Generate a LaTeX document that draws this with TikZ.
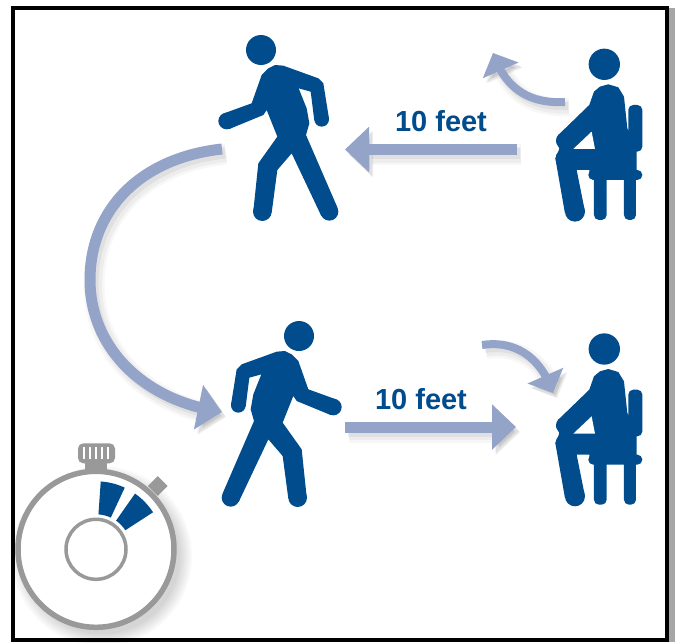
\documentclass[tikz,border=0pt]{standalone}
\usepackage{fontspec}
\setmainfont{Liberation Sans}
\usetikzlibrary{arrows.meta, bending}
\definecolor{figblue}{RGB}{0, 76, 140}
\definecolor{arrowblue}{RGB}{148, 163, 200}
\definecolor{watchgray}{RGB}{153, 153, 153}

\tikzset{
    softshadow/.style={
        preaction={draw=black, opacity=0.03, line width=#1+0.20cm, transform canvas={shift={(4,5)}}},
        preaction={draw=black, opacity=0.04, line width=#1+0.10cm, transform canvas={shift={(4,5)}}},
        preaction={draw=black, opacity=0.05, line width=#1, transform canvas={shift={(3,4)}}}
    },
    bigarrow/.style={draw=arrowblue, line width=0.22cm, softshadow=0.22cm, -{Triangle[length=0.48cm, width=0.88cm, flex]}},
    smallarrow/.style={draw=arrowblue, line width=0.16cm, softshadow=0.16cm, -{Triangle[length=0.38cm, width=0.76cm, flex]}},
    walker/.pic={
        \begin{scope}[scale=1/3, shift={(-183,-90)}]
            \fill[figblue] (183,90) circle (45);
            \fill[figblue] (225,135) -- (250,137) -- (355,175) -- (370,190) -- (387,296) -- (343,302) -- (332,215) -- (296,205)
                -- (320,265) -- (328,310) -- (318,345) -- (412,562) -- (364,588) -- (275,400) -- (232,450) -- (215,578)
                -- (160,573) -- (175,430) -- (232,350) -- (200,270) -- (190,285) -- (88,327) -- (72,280) -- (155,250)
                -- (185,165) -- (205,145) -- cycle;
            % hands and feet
            \foreach \x/\y/\r in {80/303/25,365/298/22,187/575/28,388/575/27} {
                \fill[figblue] (\x,\y) circle (\r);
            }
        \end{scope}
    },
    sitter/.pic={
        \begin{scope}[scale=1/3, shift={(-403,-103)}]
            \fill[figblue] (403,103) circle (47);
            % chair
            \fill[figblue, rounded corners=2.8pt] (475,225) rectangle (517,365);
            \fill[figblue, rounded corners=2.8pt] (355,420) rectangle (517,450);
            \fill[figblue, rounded corners=2.8pt] (372,430) rectangle (410,570);
            \fill[figblue, rounded corners=2.8pt] (462,430) rectangle (498,570);
            % body
            \fill[figblue] (415,163) -- (445,172) -- (462,200) -- (472,295) -- (500,340) -- (500,432) -- (358,432) -- (358,420) -- (320,420) -- (345,545)
                -- (285,550) -- (256,385) -- (265,365) -- (268,355) -- (258,335) -- (265,315) -- (358,225) -- (372,185) -- (390,170) -- cycle;
            \foreach \x/\y/\r in {283/332/25,285/385/28,315/545/30} {
                \fill[figblue] (\x,\y) circle (\r);
            }
            \fill[white] (365,305) -- (310,357) -- (375,357) -- cycle;
        \end{scope}
    }
}

\begin{document}
\begin{tikzpicture}[x=0.02cm, y=-0.02cm]
    \useasboundingbox (0,0) rectangle (675,642);
    \fill[white] (0,0) rectangle (675,642);

    % Frame
    \fill[black!35] (669,8) rectangle (675,642);
    \draw[black, line width=0.08cm] (13,8) rectangle (667,640);

    % People
    \pic (walkertop) at (261,50) {walker};
    \pic[xscale=-1] (walkerbottom) at (299,336) {walker};
    \pic (sittertop) at (604.3,64.3) {sitter};
    \pic (sitterbottom) at (604.3,349) {sitter};

    % Labels
    \node[text=figblue, font=\fontsize{16.5}{18}\selectfont\bfseries] (labeltop) at (441,121) {10 feet};
    \node[text=figblue, font=\fontsize{16.5}{18}\selectfont\bfseries] (labelbottom) at (421,399) {10 feet};

    % Arrows
    \coordinate (stoptop) at (517,149.5);
    \coordinate (walktop) at (345,149.5);
    \coordinate (walkbottom) at (345,427);
    \coordinate (stopbottom) at (516,427);
    \coordinate (turnstart) at (222,149);
    \coordinate (turnmid) at (90,280);
    \coordinate (turnend) at (222,412);
    \coordinate (rise) at (565,102);
    \coordinate (risetip) at (493,53);
    \coordinate (sit) at (482,345);
    \coordinate (sittip) at (553,393);

    \draw[bigarrow] (stoptop) -- (walktop);
    \draw[bigarrow] (walkbottom) -- (stopbottom);
    \draw[bigarrow] (turnstart) .. controls (140,158) and (90,210) .. (turnmid) .. controls (90,345) and (140,400) .. (turnend);
    \draw[smallarrow] (rise) .. controls (530,104) and (505,89) .. (risetip);
    \draw[smallarrow] (sit) .. controls (515,340) and (541,357) .. (sittip);

    % Stopwatch
    \begin{scope}[shift={(96,549.3)}]
        \foreach \r in {90,88,86,84,82,80,78} {
            \fill[black, opacity=0.025] (6,7) circle (\r);
        }
        \fill[watchgray, rounded corners=3] (-18,-106) rectangle (19,-86);
        \foreach \x in {-12,-6,0,6,12} {
            \draw[white, line width=0.05cm] (\x,-102) -- (\x,-90);
        }
        \fill[watchgray] (-11,-86) rectangle (11,-79);
        \fill[watchgray, rotate around={45:(61.7,-63.3)}] (54.7,-70.3) rectangle (68.7,-56.3);
        \draw[watchgray, fill=white, line width=0.11cm] (0,0) circle (78);
        \draw[watchgray, line width=0.07cm] (0,0) circle (30);
        \fill[figblue] (-86:68) arc[start angle=-86, end angle=-65, radius=68] -- (-65:35) arc[start angle=-65, end angle=-86, radius=35] -- cycle;
        \fill[figblue] (-55:68) arc[start angle=-55, end angle=-33, radius=68] -- (-33:35) arc[start angle=-33, end angle=-55, radius=35] -- cycle;
    \end{scope}
\end{tikzpicture}
\end{document}
